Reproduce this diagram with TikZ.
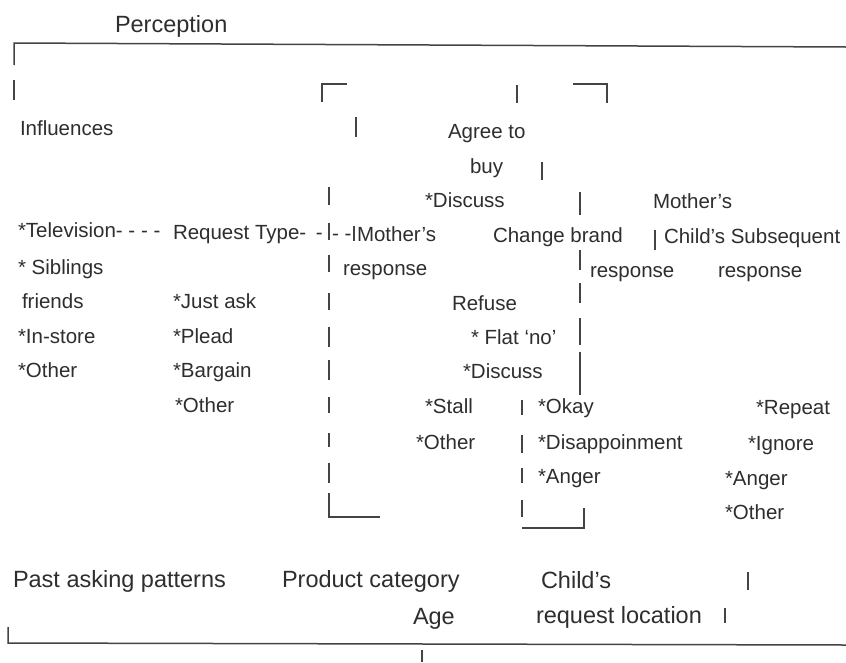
\documentclass[tikz,border=0pt]{standalone}
\usepackage{fontspec}
\setmainfont{Liberation Sans}
\definecolor{ink}{HTML}{2E2E2E}
\definecolor{rule}{HTML}{444444}
\tikzset{
  txt/.style={anchor=base west, inner sep=0pt, outer sep=0pt, text=ink, font=\fontsize{20.5}{24}\selectfont},
  bigtxt/.style={txt, font=\fontsize{23.5}{28}\selectfont},
  ln/.style={draw=rule, line width=1.8pt, line cap=butt},
  thin/.style={draw=rule, line width=1.5pt}
}
\begin{document}
\begin{tikzpicture}[x=1pt, y=-1pt]
\useasboundingbox[fill=white] (0,0) rectangle (846,662);

% ---- text ----
\node[bigtxt] (perception) at (115,32) {Perception};
\node[txt] (influences) at (20,135) {Influences};
\node[txt] (agree) at (448,138) {Agree to};
\node[txt] (buy) at (470,173) {buy};
\node[txt] (discussA) at (425,207) {*Discuss};
\node[txt] (mothersR) at (653,208) {Mother's};

\node[txt] (tv) at (18,237) {*Television- - - -};
\node[txt] (reqtype) at (173,239) {Request Type-\hspace{4pt} -};
\node[txt] (dashes) at (332,240) {- -};
\node[txt] (mothersL) at (357,241) {Mother's};
\node[txt] (change) at (493,242) {Change brand};
\node[txt] (childsub) at (664,243) {Child's Subsequent};

\node[txt] (siblings) at (18,274) {* Siblings};
\node[txt] (respL) at (343,275) {response};
\node[txt] (respM) at (590,277) {response};
\node[txt] (respR) at (718,277) {response};

\node[txt] (friends) at (22,308) {friends};
\node[txt] (justask) at (173,308) {*Just ask};
\node[txt] (refuse) at (452,310) {Refuse};

\node[txt] (instore) at (18,343) {*In-store};
\node[txt] (plead) at (173,343) {*Plead};
\node[txt] (flatno) at (471,344) {* Flat ‘no’};

\node[txt] (otherA) at (18,377) {*Other};
\node[txt] (bargain) at (173,377) {*Bargain};
\node[txt] (discussB) at (463,378) {*Discuss};

\node[txt] (otherB) at (175,412) {*Other};
\node[txt] (stall) at (425,413) {*Stall};
\node[txt] (okay) at (538,413) {*Okay};
\node[txt] (repeat) at (756,414) {*Repeat};

\node[txt] (otherC) at (416,449) {*Other};
\node[txt] (disap) at (538,449) {*Disappoinment};
\node[txt] (ignore) at (748,450) {*Ignore};

\node[txt] (angerA) at (538,483) {*Anger};
\node[txt] (angerB) at (725,485) {*Anger};
\node[txt] (otherD) at (725,519) {*Other};

\node[bigtxt] (past) at (13,587) {Past asking patterns};
\node[bigtxt] (product) at (282,587) {Product category};
\node[bigtxt] (childs) at (541,588) {Child's};
\node[bigtxt] (age) at (413,624) {Age};
\node[bigtxt] (reqloc) at (536,623) {request location};

% ---- rules and brackets ----
\draw[thin] (14,65) -- (14,43) -- (846,47);
\draw[ln] (14,80) -- (14,100);
\draw[ln] (322,102) -- (322,84) -- (347,84);
\draw[ln] (517,85) -- (517,103);
\draw[ln] (573,84) -- (607,84) -- (607,103);
\draw[ln] (356,117) -- (356,137);
\draw[ln] (542,162) -- (542,180);

% column near x=329
\foreach \a/\b in {187/205, 223/240, 255/272, 293/310, 327/347, 360/380, 397/413, 433/447, 463/483}
  \draw[ln] (329,\a) -- (329,\b);
\draw[ln] (329,493) -- (329,517) -- (380,517);
\draw[ln] (354,226) -- (354,241);

% column near x=580
\foreach \a/\b in {192/215, 250/270, 283/303, 318/345, 352/395}
  \draw[ln] (580,\a) -- (580,\b);
\draw[ln] (655,230) -- (655,250);

% column near x=522
\foreach \a/\b in {400/415, 435/453, 468/483, 500/517}
  \draw[ln] (522,\a) -- (522,\b);
\draw[ln] (522,528) -- (584,528) -- (584,508);

\draw[ln] (748,572) -- (748,590);
\draw[ln] (725,608) -- (725,623);

\draw[thin] (8,627) -- (8,643) -- (846,645);
\draw[ln] (422,650) -- (422,662);
\end{tikzpicture}
\end{document}
